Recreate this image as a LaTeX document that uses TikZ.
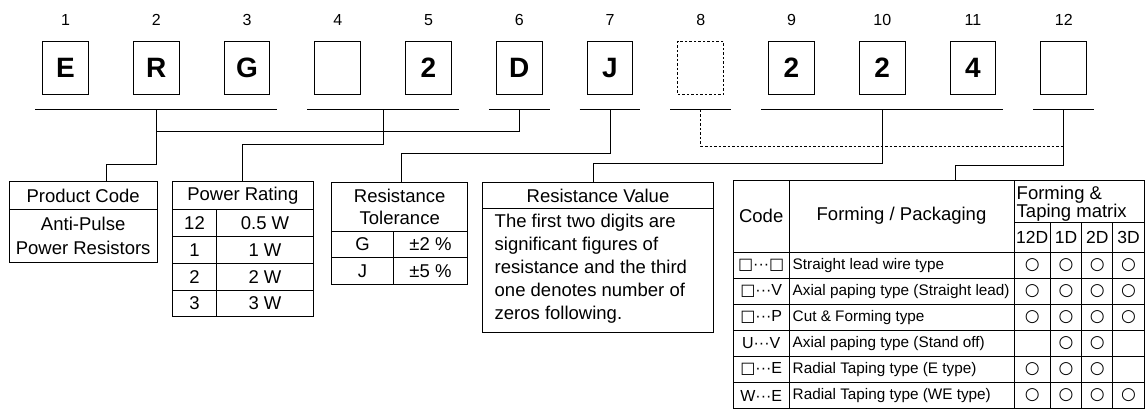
\documentclass[tikz,border=0pt]{standalone}
\usepackage{fontspec}
\setmainfont{Liberation Sans}
\newfontfamily\symfont{DejaVu Sans}
\usetikzlibrary{calc}
\tikzset{
  ln/.style={line width=0.9pt},
  dashln/.style={line width=0.9pt, dash pattern=on 2.5pt off 2pt},
  digitbox/.style={draw, line width=0.9pt, minimum width=45.7pt, minimum height=53pt, inner sep=0pt, font=\fontsize{28}{28}\selectfont\bfseries},
  numlbl/.style={inner sep=0pt, font=\fontsize{16}{16}\selectfont},
  frame/.style={draw, line width=0.9pt, inner sep=0pt},
  hdr/.style={inner sep=0pt, align=center, font=\fontsize{18.5}{22}\selectfont},
  sub/.style={inner sep=0pt, font=\fontsize{17.5}{17.5}\selectfont},
  small/.style={inner sep=0pt, font=\fontsize{15.3}{15.3}\selectfont},
  codec/.style={inner sep=0pt, font=\fontsize{16}{16}\selectfont},
  circ/.style={inner sep=0pt, font=\symfont\fontsize{17}{17}\selectfont},
}
\newcommand{\sq}{{\symfont\fontsize{16}{16}\selectfont □}}
\newcommand{\ci}{○}
\begin{document}
\begin{tikzpicture}[x=1pt,y=-1pt]
\useasboundingbox (0,0) rectangle (1147,410);
% top number labels and boxes
\foreach \i in {1,...,12}{
  \node[numlbl] (n\i) at ({65.5+90.75*(\i-1)},20) {\i};
}
\node[digitbox] (b1) at (65.5,67.8) {E};
\node[digitbox] (b2) at (156.25,67.8) {R};
\node[digitbox] (b3) at (247,67.8) {G};
\node[digitbox] (b4) at (337.75,67.8) {};
\node[digitbox] (b5) at (428.5,67.8) {2};
\node[digitbox] (b6) at (519.25,67.8) {D};
\node[digitbox] (b7) at (610,67.8) {J};
\node[digitbox, dashln] (b8) at (700.75,67.8) {};
\node[digitbox] (b9) at (791.5,67.8) {2};
\node[digitbox] (b10) at (882.25,67.8) {2};
\node[digitbox] (b11) at (973,67.8) {4};
\node[digitbox] (b12) at (1063.75,67.8) {};
% underlines
\draw[ln] ($(b1.south west)+(-7,15)$) -- ($(b3.south east)+(7,15)$);
\draw[ln] ($(b4.south west)+(-7,15)$) -- ($(b5.south east)+(7,15)$);
\draw[ln] ($(b6.south west)+(-7,15)$) -- ($(b6.south east)+(7,15)$);
\draw[ln] ($(b7.south west)+(-7,15)$) -- ($(b7.south east)+(7,15)$);
\draw[ln] ($(b8.south west)+(-7,15)$) -- ($(b8.south east)+(7,15)$);
\draw[ln] ($(b9.south west)+(-7,15)$) -- ($(b11.south east)+(7,15)$);
\draw[ln] ($(b12.south west)+(-7,15)$) -- ($(b12.south east)+(7,15)$);
\coordinate (g1) at ($(b2.south)+(0,15)$);
\coordinate (g2) at ($(b4.south)!0.5!(b5.south)+(0,15)$);
\coordinate (g3) at ($(b6.south)+(0,15)$);
\coordinate (g4) at ($(b7.south)+(0,15)$);
\coordinate (g5) at ($(b8.south)+(0,15)$);
\coordinate (g6) at ($(b10.south)+(0,15)$);
\coordinate (g7) at ($(b12.south)+(0,15)$);

% Product Code
\node[frame, minimum width=147.7pt, minimum height=81pt] (pc) at (83.15,222.2) {};
\draw[ln] (9.3,209) -- (157,209);
\node[hdr] (pch) at (83.15,195.6) {Product Code};
\node[hdr, font=\fontsize{18.5}{24.5}\selectfont] (pcb) at (83.15,236) {Anti-Pulse\\Power Resistors};

% Power Rating
\node[frame, minimum width=141pt, minimum height=135pt] (pr) at (242.8,249.2) {};
\draw[ln] (172.3,209) -- (313.3,209);
\draw[ln] (172.3,236.3) -- (313.3,236.3);
\draw[ln] (172.3,263.3) -- (313.3,263.3);
\draw[ln] (172.3,290) -- (313.3,290);
\draw[ln] (216.7,209) -- (216.7,316.7);
\node[hdr] (prh) at (242.8,195.6) {Power Rating};
\node[hdr] (pr1a) at (194.5,222.8) {12};
\node[hdr] (pr1b) at (265,222.8) {0.5 W};
\node[hdr] (pr2a) at (194.5,249.8) {1};
\node[hdr] (pr2b) at (265,249.8) {1 W};
\node[hdr] (pr3a) at (194.5,276.8) {2};
\node[hdr] (pr3b) at (265,276.8) {2 W};
\node[hdr] (pr4a) at (194.5,303.5) {3};
\node[hdr] (pr4b) at (265,303.5) {3 W};

% Resistance Tolerance
\node[frame, minimum width=136pt, minimum height=102pt] (rt) at (399.7,233.3) {};
\draw[ln] (331.7,231) -- (467.7,231);
\draw[ln] (331.7,257.7) -- (467.7,257.7);
\draw[ln] (393.3,231) -- (393.3,284.3);
\node[hdr] (rth) at (399.7,206.8) {Resistance\\Tolerance};
\node[hdr] (rt1a) at (362.5,244.5) {G};
\node[hdr] (rt1b) at (430.5,244.5) {±2 \%};
\node[hdr] (rt2a) at (362.5,271.2) {J};
\node[hdr] (rt2b) at (430.5,271.2) {±5 \%};

% Resistance Value
\node[frame, minimum width=230.6pt, minimum height=150pt] (rv) at (598,257.3) {};
\draw[ln] (482.7,208.7) -- (713.3,208.7);
\node[hdr] (rvh) at (598,195.6) {Resistance Value};
\node[hdr, align=left, anchor=west, font=\fontsize{18.5}{23}\selectfont] (rvb) at (494.5,268.6)
  {The first two digits are\\significant figures of\\resistance and the third\\one denotes number of\\zeros following.};

% Forming table
\node[frame, minimum width=411.2pt, minimum height=228.5pt] (ft) at (938.9,294.25) {};
\draw[ln] (789,180) -- (789,408.5);
\draw[ln] (1014,180) -- (1014,408.5);
\draw[ln] (1050.5,222.3) -- (1050.5,408.5);
\draw[ln] (1081.7,222.3) -- (1081.7,408.5);
\draw[ln] (1112.7,222.3) -- (1112.7,408.5);
\draw[ln] (1014,222.3) -- (1144.5,222.3);
\foreach \yy in {252.3,278.3,304.4,330.4,356.4,382.5}{
  \draw[ln] (733.3,\yy) -- (1144.5,\yy);
}
\node[hdr] (fcode) at (761.2,216) {Code};
\node[hdr] (fpack) at (901.5,216) {Forming / Packaging};
\node[hdr, align=left, anchor=west, font=\fontsize{18.5}{17.5}\selectfont] (fmat) at (1016.5,203.5) {Forming \&\\Taping matrix};
\node[sub] (s1) at (1032.25,237.6) {12D};
\node[sub] (s2) at (1066.1,237.6) {1D};
\node[sub] (s3) at (1097.2,237.6) {2D};
\node[sub] (s4) at (1128.6,237.6) {3D};

% rows
\node[codec] (c1) at (761.2,265.3) {\sq···\sq};
\node[codec] (c2) at (761.2,291.3) {\sq···V};
\node[codec] (c3) at (761.2,317.4) {\sq···P};
\node[codec] (c4) at (761.2,343.4) {U···V};
\node[codec] (c5) at (761.2,369.4) {\sq···E};
\node[codec] (c6) at (761.2,395.5) {W···E};
\node[small, anchor=west] (d1) at (792.5,265.3) {Straight lead wire type};
\node[small, anchor=west] (d2) at (792.5,291.3) {Axial paping type (Straight lead)};
\node[small, anchor=west] (d3) at (792.5,317.4) {Cut \& Forming type};
\node[small, anchor=west] (d4) at (792.5,343.4) {Axial paping type (Stand off)};
\node[small, anchor=west] (d5) at (792.5,369.4) {Radial Taping type (E type)};
\node[small, anchor=west] (d6) at (792.5,395.5) {Radial Taping type (WE type)};
% circles: row/col
\foreach \r/\yy/\cols in {1/265.3/{1,2,3,4}, 2/291.3/{1,2,3,4}, 3/317.4/{1,2,3,4}, 4/343.4/{2,3}, 5/369.4/{1,2,3}, 6/395.5/{1,2,3,4}}{
  \foreach \c in \cols {
    \pgfmathsetmacro{\xx}{{1032.25,1066.1,1097.2,1128.6}[\c-1]}
    \node[circ] (o\r\c) at (\xx,\yy) {\ci};
  }
}

% connectors
\coordinate (k1) at (106,164.3);
\coordinate (k2) at (242.8,144.3);
\coordinate (k3) at (156.25,131);
\coordinate (k4) at (401.5,153.3);
\coordinate (k5) at (1063.75,146);
\coordinate (k6) at (593.3,163.3);
\coordinate (k7) at (955.7,165.7);
\draw[ln] (g1) |- (k1) -- (k1 |- pc.north);
\draw[ln] (g3) |- (k3);
\draw[ln] (g2) |- (k2) -- (k2 |- pr.north);
\draw[ln] (g4) |- (k4) -- (k4 |- rt.north);
\draw[dashln] (g5) |- (k5);
\draw[ln] (g6) |- (k6) -- (k6 |- rv.north);
\draw[ln] (g7) |- (k7) -- (k7 |- ft.north);
\end{tikzpicture}
\end{document}
